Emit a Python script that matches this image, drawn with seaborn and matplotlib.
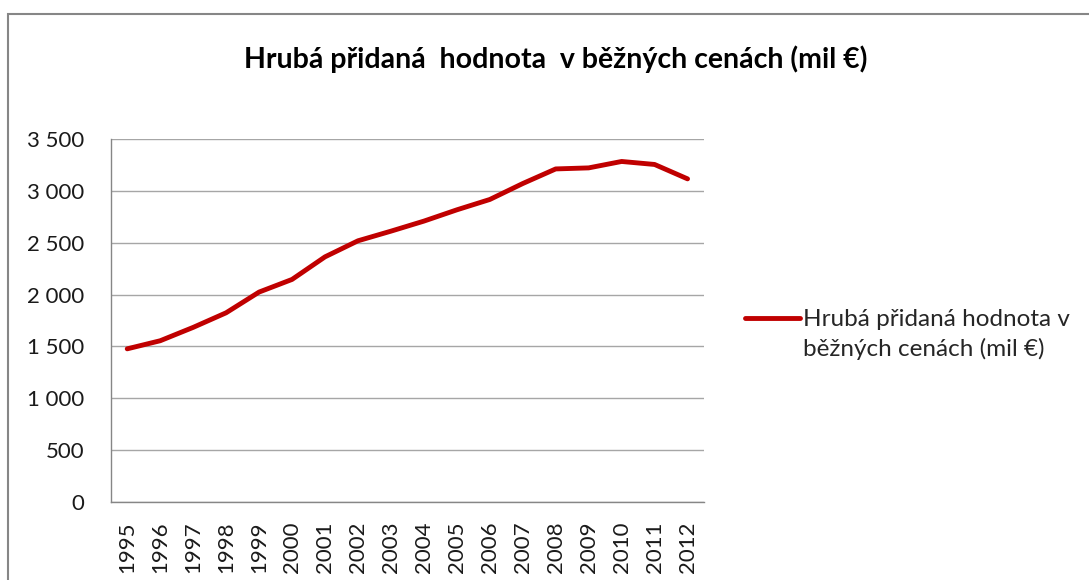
"""
Hrubá přidaná hodnota v běžných cenách (mil €) -- čárový graf 1995-2012.
Výstup: out.png (1089x580)
"""

import numpy as np
import pandas as pd
import matplotlib
matplotlib.use("Agg")
import matplotlib.pyplot as plt
from matplotlib.ticker import FuncFormatter, FixedLocator
from matplotlib.lines import Line2D
from matplotlib.patches import Rectangle
import seaborn as sns

# ==========================================
# data
# ==========================================
YEARS = [str(y) for y in range(1995, 2013)]
HPH = [1476, 1554, 1683, 1824, 2024, 2146, 2364, 2519, 2612,
       2709, 2818, 2918, 3072, 3213, 3223, 3285, 3256, 3117]
SERIES_NAME = "Hrubá přidaná hodnota v běžných cenách (mil €)"
TITLE = "Hrubá přidaná  hodnota  v běžných cenách (mil €)"

LINE_COLOR = "#C00000"
GRID_COLOR = "#A6A6A6"
AXIS_COLOR = "#868686"
TEXT_COLOR = "#1a1a1a"

sns.set_theme(style="white")
plt.rcParams["font.family"] = ["Lato", "DejaVu Sans"]

df = pd.DataFrame({"rok": YEARS, "hodnota": HPH})

fig = plt.figure(figsize=(10.89, 5.80), dpi=100)
ax = fig.add_axes([0.1017, 0.135, 0.5448, 0.625])

sns.lineplot(data=df, x="rok", y="hodnota", ax=ax, color=LINE_COLOR,
             linewidth=3.5, sort=False, legend=False)

# osy
ax.set_ylim(0, 3500)
ax.set_xlim(-0.5, len(YEARS) - 0.5)
ax.yaxis.set_major_locator(FixedLocator(np.arange(0, 3501, 500)))
ax.yaxis.set_major_formatter(FuncFormatter(lambda v, p: f"{v:,.0f}".replace(",", " ")))
ax.set_xticks(range(len(YEARS)))
ax.set_xticklabels(YEARS, rotation=90)
ax.xaxis.set_minor_locator(FixedLocator(np.arange(-0.5, len(YEARS), 1.0)))
ax.tick_params(axis="x", which="major", length=0, pad=14, labelsize=16, labelcolor=TEXT_COLOR)
ax.tick_params(axis="x", which="minor", length=6, width=1, color=AXIS_COLOR, direction="out")
ax.tick_params(axis="y", which="major", length=6, width=1, color=AXIS_COLOR,
               direction="out", labelsize=16, pad=13, labelcolor=TEXT_COLOR)
ax.set_xlabel("")
ax.set_ylabel("")

ax.grid(axis="y", color=GRID_COLOR, linewidth=1)
ax.grid(axis="x", visible=False)
for side in ("top", "right"):
    ax.spines[side].set_visible(False)
for side in ("left", "bottom"):
    ax.spines[side].set_color(AXIS_COLOR)
    ax.spines[side].set_linewidth(1)

# titulek
fig.text(0.51, 0.898, TITLE, ha="center", va="center", fontsize=20.5, fontweight="bold",
         color="#000000")

# legenda (dva řádky, čára u prvního)
words = SERIES_NAME.split(" ")
line1 = " ".join(words[:4])
line2 = " ".join(words[4:])
handles = [Line2D([], [], color=LINE_COLOR, linewidth=3.5),
           Line2D([], [], color="none")]
leg = fig.legend(handles, [line1, line2], loc="center left", bbox_to_anchor=(0.684, 0.423),
                 frameon=False, fontsize=17.5, handlelength=2.26, handletextpad=0.12,
                 labelspacing=0.33, borderpad=0, borderaxespad=0)
for t in leg.get_texts():
    t.set_color("#262626")

# rámeček grafu
fig.patches.append(Rectangle((8 / 1089, -0.05), 1.1, 1 - 14 / 580 + 0.05,
                             transform=fig.transFigure, fill=False,
                             edgecolor=AXIS_COLOR, linewidth=1.5))

fig.savefig("out.png", dpi=100)
plt.close(fig)
